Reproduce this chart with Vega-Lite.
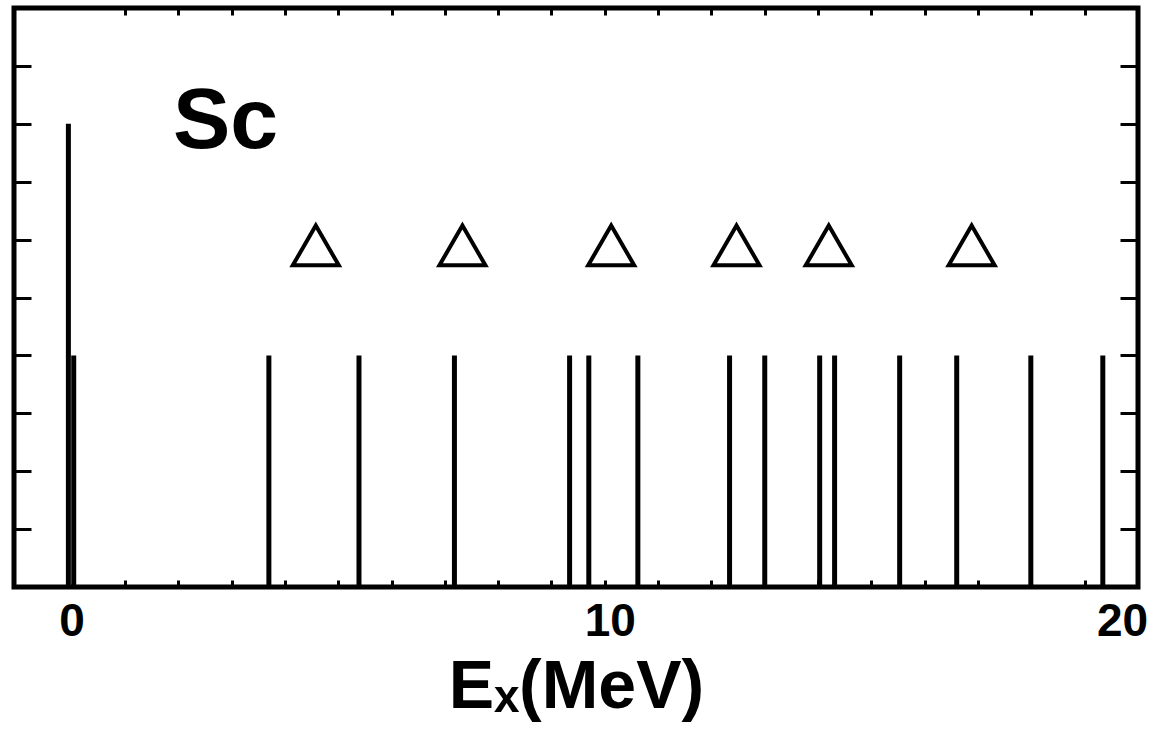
{
  "$schema": "https://vega.github.io/schema/vega-lite/v6.json",
  "width": 1124,
  "height": 579,
  "autosize": "none",
  "padding": {"left": 14, "top": 8, "right": 19, "bottom": 149},
  "background": "white",
  "config": {
    "view": {"stroke": "black", "strokeWidth": 5},
    "axis": {"domain": false, "grid": false, "tickColor": "black", "tickWidth": 3, "labelColor": "black", "titleColor": "black"}
  },
  "datasets": {
    "levels": [
      {"E": -0.06, "h": 8},
      {"E": 0.04, "h": 4},
      {"E": 3.70, "h": 4},
      {"E": 5.39, "h": 4},
      {"E": 7.18, "h": 4},
      {"E": 9.34, "h": 4},
      {"E": 9.70, "h": 4},
      {"E": 10.62, "h": 4},
      {"E": 12.34, "h": 4},
      {"E": 13.00, "h": 4},
      {"E": 14.03, "h": 4},
      {"E": 14.31, "h": 4},
      {"E": 15.53, "h": 4},
      {"E": 16.60, "h": 4},
      {"E": 17.99, "h": 4},
      {"E": 19.34, "h": 4}
    ],
    "resonances": [
      {"E": 4.58, "h": 5.9},
      {"E": 7.33, "h": 5.9},
      {"E": 10.12, "h": 5.9},
      {"E": 12.47, "h": 5.9},
      {"E": 14.20, "h": 5.9},
      {"E": 16.88, "h": 5.9}
    ],
    "labels": [
      {"E": 1.9, "h": 7.58, "text": "Sc"}
    ]
  },
  "resolve": {"axis": {"x": "independent", "y": "independent"}},
  "layer": [
    {
      "data": {"name": "levels"},
      "mark": {"type": "rule", "color": "black", "strokeWidth": 5},
      "encoding": {
        "x": {
          "field": "E", "type": "quantitative",
          "scale": {"domain": [-1.08, 20], "nice": false, "zero": false},
          "axis": {"orient": "bottom", "labels": false, "title": null, "tickSize": -7, "values": [1,2,3,4,5,6,7,8,9,10,11,12,13,14,15,16,17,18,19]}
        },
        "y": {
          "field": "h", "type": "quantitative",
          "scale": {"domain": [0, 10], "nice": false, "zero": true},
          "axis": {"orient": "left", "labels": false, "title": null, "tickSize": -17, "values": [1,2,3,4,5,6,7,8,9]}
        },
        "y2": {"datum": 0}
      }
    },
    {
      "data": {"name": "resonances"},
      "mark": {"type": "point", "shape": "triangle-up", "filled": false, "stroke": "black", "strokeWidth": 4, "size": 2116, "opacity": 1},
      "encoding": {
        "x": {
          "field": "E", "type": "quantitative",
          "axis": {"orient": "top", "labels": false, "title": null, "tickSize": -7, "values": [1,2,3,4,5,6,7,8,9,10,11,12,13,14,15,16,17,18,19]}
        },
        "y": {
          "field": "h", "type": "quantitative",
          "axis": {"orient": "right", "labels": false, "title": null, "tickSize": -18, "values": [1,2,3,4,5,6,7,8,9]}
        }
      }
    },
    {
      "data": {"name": "labels"},
      "mark": {"type": "text", "font": "Liberation Sans", "fontWeight": "bold", "fontSize": 86, "align": "left", "baseline": "alphabetic", "color": "black"},
      "encoding": {
        "x": {
          "field": "E", "type": "quantitative",
          "axis": {
            "orient": "bottom", "ticks": false, "values": [0, 10, 20],
            "labelFont": "Liberation Sans", "labelFontWeight": "bold", "labelFontSize": 46,
            "labelPadding": 12, "labelOverlap": false, "labelFlush": false,
            "labelOffset": {"condition": [{"test": "datum.value == 20", "value": -16}, {"test": "datum.value == 10", "value": 5}], "value": 0},
            "title": "Eₓ(MeV)", "titleFont": "Liberation Sans", "titleFontWeight": "bold", "titleFontSize": 68, "titlePadding": 9
          }
        },
        "y": {"field": "h", "type": "quantitative", "axis": null},
        "text": {"field": "text"}
      }
    }
  ]
}
